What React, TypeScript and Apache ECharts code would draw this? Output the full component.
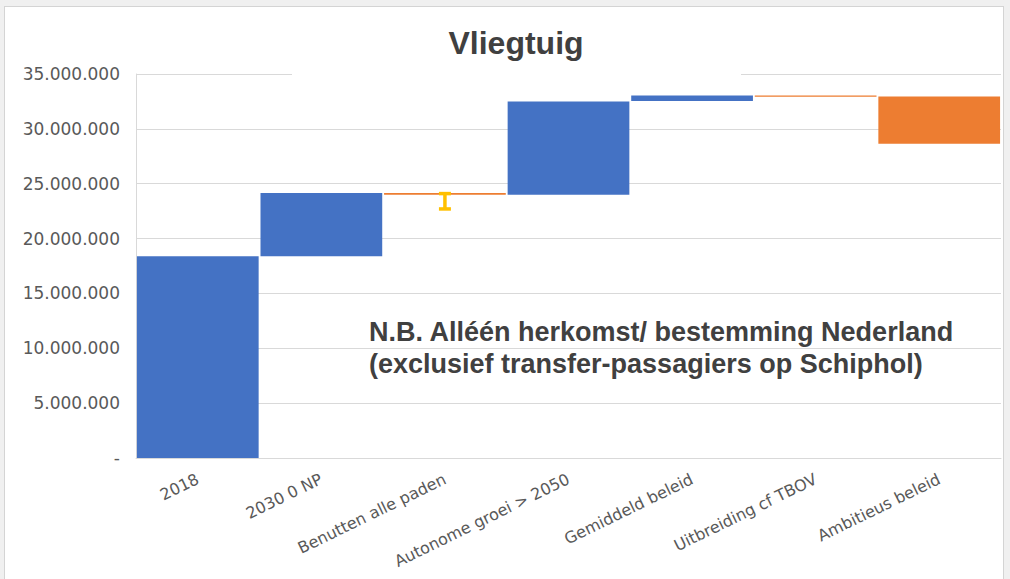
import React, { useEffect, useRef } from "react";
import * as echarts from "echarts";

const categories = [
  "2018",
  "2030 0 NP",
  "Benutten alle paden",
  "Autonome groei > 2050",
  "Gemiddeld beleid",
  "Uitbreiding cf TBOV",
  "Ambitieus beleid",
];
// waterfall segments: start and end value of each step
const barFrom = [0, 18400000, 24150000, 24000000, 32550000, 33050000, 32950000];
const barTo = [18400000, 24150000, 24000000, 32500000, 33050000, 32920000, 28650000];
// error bar on "Benutten alle paden"
const errorBars = [[2, 22700000, 24100000]];
const yTicks = { min: 0, max: 35000000, interval: 5000000 };

const titleText = "Vliegtuig";
const noteLines = [
  "N.B. Alléén herkomst/ bestemming Nederland",
  "(exclusief transfer-passagiers op Schiphol)",
];

const BLUE = "#4472C4";
const ORANGE = "#ED7D31";
const YELLOW = "#FFC000";

function fmt(v: number) {
  if (v === 0) return "-";
  return Math.round(v)
    .toString()
    .replace(/\B(?=(\d{3})+(?!\d))/g, ".");
}

export default function App() {
  const ref = useRef<HTMLDivElement>(null);
  useEffect(() => {
    if (!ref.current) return;
    const chart = echarts.init(ref.current, undefined, { renderer: "svg" });
    const base = barFrom.map((f, i) => Math.min(f, barTo[i]));
    const size = barFrom.map((f, i) => ({
      value: Math.abs(barTo[i] - f),
      itemStyle: { color: barTo[i] >= f ? BLUE : ORANGE },
    }));
    chart.setOption({
      animation: false,
      backgroundColor: "transparent",
      grid: { left: 136, right: 9, top: 74, bottom: 121, containLabel: false, outerBoundsMode: "none" },
      xAxis: {
        type: "category",
        data: categories,
        axisLine: { show: true, lineStyle: { color: "#d9d9d9", width: 1 } },
        axisTick: { show: false },
        axisLabel: {
          rotate: 26,
          interval: 0,
          margin: 20,
          color: "#595959",
          fontSize: 16,
          fontFamily: "DejaVu Sans",
        },
      },
      yAxis: {
        type: "value",
        min: yTicks.min,
        max: yTicks.max,
        interval: yTicks.interval,
        axisLine: { show: true, lineStyle: { color: "#d9d9d9", width: 1 } },
        axisTick: { show: false },
        splitLine: { show: true, lineStyle: { color: "#d9d9d9", width: 1 } },
        axisLabel: {
          margin: 16,
          color: "#595959",
          fontSize: 17,
          fontFamily: "DejaVu Sans",
          formatter: (v: number) => fmt(v),
        },
      },
      series: [
        {
          type: "bar",
          stack: "wf",
          data: base,
          itemStyle: { color: "transparent" },
          barCategoryGap: "1.5%",
          silent: true,
        },
        {
          type: "bar",
          stack: "wf",
          data: size,
          barCategoryGap: "1.5%",
        },
        {
          type: "custom",
          data: errorBars,
          encode: { x: 0, y: [1, 2] },
          z: 10,
          renderItem: (params: any, api: any) => {
            const top = api.coord([api.value(0), api.value(2)]);
            const bot = api.coord([api.value(0), api.value(1)]);
            const hw = 6;
            const st = { stroke: YELLOW, lineWidth: 3.5 };
            return {
              type: "group",
              children: [
                { type: "line", shape: { x1: top[0], y1: top[1], x2: bot[0], y2: bot[1] }, style: st },
                { type: "line", shape: { x1: top[0] - hw, y1: top[1], x2: top[0] + hw, y2: top[1] }, style: st },
                { type: "line", shape: { x1: bot[0] - hw, y1: bot[1], x2: bot[0] + hw, y2: bot[1] }, style: st },
              ],
            };
          },
        },
      ],
      graphic: [
        {
          type: "rect",
          z: 100,
          shape: { x: 292, y: 28, width: 449, height: 50 },
          style: { fill: "#ffffff" },
        },
        {
          type: "text",
          z: 101,
          x: 516,
          y: 59,
          style: {
            text: titleText,
            fill: "#404040",
            font: "bold 32px 'Liberation Sans', Arial, sans-serif",
            textAlign: "center",
            textVerticalAlign: "bottom",
          },
        },
        {
          type: "text",
          z: 101,
          x: 369,
          y: 316,
          style: {
            text: noteLines.join("\n"),
            fill: "#404040",
            font: "bold 27px 'Liberation Sans', Arial, sans-serif",
            lineHeight: 32,
            textAlign: "left",
            textVerticalAlign: "top",
          },
        },
      ],
    });
    return () => chart.dispose();
  }, []);
  return (
    <div style={{ position: "fixed", left: 0, top: 0, width: 1010, height: 579, background: "#f0f0f0", overflow: "hidden" }}>
      <div
        style={{
          position: "absolute",
          left: 4,
          top: 6,
          width: 998,
          height: 600,
          background: "#ffffff",
          border: "1px solid #d4d4d4",
        }}
      />
      <div ref={ref} style={{ position: "absolute", left: 0, top: 0, width: 1010, height: 579 }} />
    </div>
  );
}
